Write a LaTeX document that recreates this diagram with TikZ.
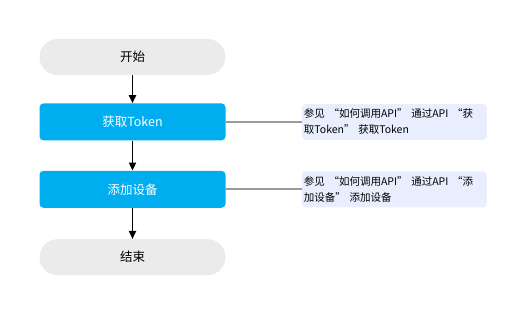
\documentclass[tikz,border=0pt]{standalone}
\usepackage{fontspec}
\setmainfont{Noto Sans CJK SC}
\usetikzlibrary{positioning,arrows.meta}
\definecolor{stepblue}{HTML}{00AEEF}
\definecolor{termgray}{HTML}{EBEBEB}
\definecolor{notefill}{HTML}{E8EEFD}
\definecolor{linkgray}{HTML}{9A9A9A}
\newcommand\qopen{\hspace{0.35em}“}
\newcommand\qclose{”\hspace{0.35em}}

\begin{document}
\begin{tikzpicture}[node distance=29pt, every node/.style={font=\fontsize{12.5pt}{15pt}\selectfont}]
\tikzstyle{term}=[fill=termgray, rounded corners=18pt, minimum width=186pt, minimum height=36pt, inner sep=0pt]
\tikzstyle{stepbox}=[fill=stepblue, text=white, rounded corners=4pt, minimum width=186pt, minimum height=37pt, inner sep=0pt]
\tikzstyle{note}=[fill=notefill, rounded corners=4pt, minimum width=185pt, minimum height=36pt, inner sep=2pt, align=left, text width=181pt, font=\fontsize{10.5pt}{16pt}\selectfont]
\tikzstyle{flow}=[-{Triangle[length=8pt,width=7pt]}, line width=1.8pt]
\tikzstyle{link}=[draw=linkgray, line width=2pt]
\useasboundingbox (0,0) rectangle (525pt,-312pt);
\node[term] (start) at (132.5pt,-57pt) {开始};
\node[stepbox, below=28pt of start] (token) {获取Token};
\node[stepbox, below=30pt of token] (adddev) {添加设备};
\node[term, below=31pt of adddev] (stop) {结束};
\node[note, right=76pt of token] (n1) {参见\qopen 如何调用API\qclose 通过API\qopen 获\\取Token\qclose 获取Token};
\node[note, right=76pt of adddev] (n2) {参见\qopen 如何调用API\qclose 通过API\qopen 添\\加设备\qclose 添加设备};
\draw[flow] (start)--(token); \draw[flow] (token)--(adddev); \draw[flow] (adddev)--(stop);
\draw[link] (token.east)--(n1.west); \draw[link] (adddev.east)--(n2.west);
\end{tikzpicture}
\end{document}
